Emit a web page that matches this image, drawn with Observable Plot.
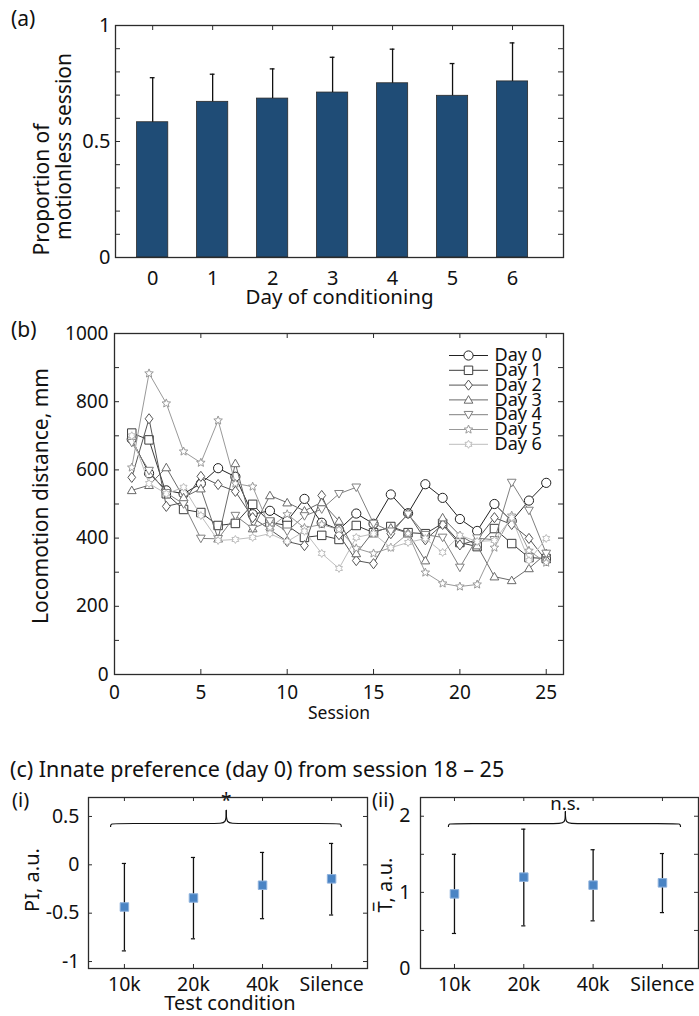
<!DOCTYPE html>
<html><head><meta charset="utf-8">
<script src="https://cdn.jsdelivr.net/npm/d3@7"></script>
<script src="https://cdn.jsdelivr.net/npm/@observablehq/plot@0.6"></script>
<style>
html,body{margin:0;padding:0;background:#fff;}
#root{position:relative;width:699px;height:1016px;font-family:"Noto Sans",sans-serif;color:#111;overflow:hidden;}
#root svg{position:absolute;overflow:visible;}
.lbl{position:absolute;line-height:1;white-space:nowrap;}
</style></head>
<body><div id="root"></div>
<script>
// ---------------- DATA ----------------
// (a)
const days = [0, 1, 2, 3, 4, 5, 6];
const propMean = [0.583, 0.671, 0.685, 0.711, 0.751, 0.697, 0.759];
const propUpper = [0.775, 0.790, 0.813, 0.863, 0.898, 0.836, 0.925];
const aYLabelTicks = [0, 0.5, 1];
const aYMinorTicks = [0, 0.1, 0.2, 0.3, 0.4, 0.5, 0.6, 0.7, 0.8, 0.9, 1];

// (b)
const sessions = [1,2,3,4,5,6,7,8,9,10,11,12,13,14,15,16,17,18,19,20,21,22,23,24,25];
const day0 = [690, 590, 540, 530, 560, 605, 580, 470, 480, 450, 515, 445, 425, 472, 442, 528, 473, 558, 518, 456, 421, 500, 450, 510, 562];
const day1 = [708, 688, 530, 484, 475, 437, 443, 499, 446, 437, 402, 408, 396, 437, 416, 434, 416, 413, 443, 387, 375, 428, 384, 343, 340];
const day2 = [578, 750, 493, 505, 581, 557, 537, 460, 425, 390, 378, 525, 410, 334, 325, 413, 472, 395, 440, 380, 395, 460, 440, 399, 334];
const day3 = [540, 555, 607, 519, 545, 398, 619, 428, 525, 504, 480, 505, 450, 355, 420, 430, 415, 334, 460, 408, 378, 287, 276, 311, 355];
const day4 = [680, 598, 533, 500, 399, 398, 466, 428, 450, 420, 465, 485, 530, 549, 443, 420, 470, 410, 402, 314, 400, 395, 563, 481, 355];
const day5 = [607, 883, 795, 654, 621, 745, 560, 551, 430, 470, 430, 440, 425, 370, 355, 372, 413, 299, 267, 258, 264, 372, 466, 363, 328];
const day6 = [700, 560, 530, 549, 466, 393, 396, 402, 413, 390, 420, 355, 311, 402, 413, 372, 387, 399, 358, 408, 390, 393, 460, 334, 399];
const dayLabels = ["Day 0", "Day 1", "Day 2", "Day 3", "Day 4", "Day 5", "Day 6"];
const daySeries = [day0, day1, day2, day3, day4, day5, day6];
const dayColors = ["#222222", "#3d3d3d", "#555555", "#6a6a6a", "#808080", "#999999", "#bdbdbd"];
const bXTicks = [0, 5, 10, 15, 20, 25];
const bYLabelTicks = [0, 200, 400, 600, 800, 1000];
const bYMinorTicks = [0, 100, 200, 300, 400, 500, 600, 700, 800, 900, 1000];

// (c)
const conds = ["10k", "20k", "40k", "Silence"];
const condIdx = [0, 1, 2, 3];
const piMean = [-0.436, -0.343, -0.211, -0.145];
const piLow = [-0.890, -0.765, -0.557, -0.519];
const piHigh = [0.014, 0.076, 0.128, 0.221];
const tMean = [0.98, 1.20, 1.095, 1.125];
const tLow = [0.46, 0.56, 0.626, 0.734];
const tHigh = [1.50, 1.83, 1.56, 1.51];
const iYLabelTicks = [-1, -0.5, 0, 0.5];
const iiYLabelTicks = [0, 1, 2];
const iiYMinorTicks = [0, 0.5, 1, 1.5, 2];
// brace annotations: [left end, right end, tip] in category units; [end, line, tip] in y units
const braceIX = [-0.2, 3.14, 1.475], braceIY = [0.396, 0.427, 0.562];
const braceIIX = [-0.087, 3.26, 1.6], braceIIY = [1.865, 1.904, 2.06];
const sigI = "*", sigII = "n.s.";

// ---------------- HELPERS ----------------
const root = document.getElementById("root");
const FONT = "'Noto Sans', sans-serif";
function put(svg, left, top) { svg.style.left = left + "px"; svg.style.top = top + "px"; root.appendChild(svg); }
function label(text, left, top, size) {
  const d = document.createElement("div"); d.className = "lbl"; d.textContent = text;
  d.style.left = left + "px"; d.style.top = top + "px"; d.style.fontSize = size + "px";
  root.appendChild(d);
}
function sym(fn) { return {draw(c, size) { fn(c, Math.sqrt(size / Math.PI)); }}; }
function poly(c, pts) { pts.forEach(([x, y], k) => k ? c.lineTo(x, y) : c.moveTo(x, y)); c.closePath(); }
const symCircle = sym((c, r) => { c.moveTo(r, 0); c.arc(0, 0, r, 0, 2 * Math.PI); });
const symSquare = sym((c, r) => { const s = r * 0.92; c.rect(-s, -s, 2 * s, 2 * s); });
const symDiamond = sym((c, r) => { const w = r * 0.88, h = r * 1.15; poly(c, [[0, -h], [w, 0], [0, h], [-w, 0]]); });
const symTriUp = sym((c, r) => { const R = r * 1.2; poly(c, [0, 1, 2].map(k => { const a = -Math.PI / 2 + k * 2 * Math.PI / 3; return [R * Math.cos(a), R * Math.sin(a) + R * 0.15]; })); });
const symTriDown = sym((c, r) => { const R = r * 1.2; poly(c, [0, 1, 2].map(k => { const a = Math.PI / 2 + k * 2 * Math.PI / 3; return [R * Math.cos(a), R * Math.sin(a) - R * 0.15]; })); });
const symStar5 = sym((c, r) => { const R = r * 1.12, ri = R * 0.45; poly(c, d3.range(10).map(k => { const a = -Math.PI / 2 + k * Math.PI / 5, rr = k % 2 ? ri : R; return [rr * Math.cos(a), rr * Math.sin(a)]; })); });
const symHex = sym((c, r) => { const R = r * 1.0, ri = R / Math.sqrt(3); poly(c, d3.range(12).map(k => { const a = -Math.PI / 2 + k * Math.PI / 6, rr = k % 2 ? ri : R; return [rr * Math.cos(a), rr * Math.sin(a)]; })); });
const symLegendLine = {draw(c) { c.moveTo(-19.5, 0); c.lineTo(19.5, 0); }};
const daySymbols = [symCircle, symSquare, symDiamond, symTriUp, symTriDown, symStar5, symHex];
const daySizes = [4.6, 4.6, 4.4, 4.2, 4.2, 4.0, 4.0];
const FR = "#2b2b2b";

// inward ticks
function yTicksInward(vals, frameW, len = 5) {
  return [Plot.tickY(vals, {y: d => d, insetRight: frameW - len, stroke: FR, strokeWidth: 1}),
          Plot.tickY(vals, {y: d => d, insetLeft: frameW - len, stroke: FR, strokeWidth: 1})];
}
function xTicksInward(vals, frameH, len = 5) {
  return [Plot.tickX(vals, {x: d => d, insetBottom: frameH - len, stroke: FR, strokeWidth: 1}),
          Plot.tickX(vals, {x: d => d, insetTop: frameH - len, stroke: FR, strokeWidth: 1})];
}
function braceLines(bx, by) {
  const [x0, x1, xm] = bx, [yEnd, yLine, yTip] = by, d = 0.12;
  const left = [[x0, yEnd], [x0, yLine], [x0 + d, yLine], [xm - d, yLine], [xm, yLine], [xm, yTip]].map(p => ({x: p[0], y: p[1], z: "L"}));
  const right = [[x1, yEnd], [x1, yLine], [x1 - d, yLine], [xm + d, yLine], [xm, yLine], [xm, yTip]].map(p => ({x: p[0], y: p[1], z: "R"}));
  return Plot.line(left.concat(right), {x: "x", y: "y", z: "z", curve: "basis", stroke: "#111", strokeWidth: 1.2});
}
// a free-standing label positioned relative to the frame
function frameText(str, anchor, dx, dy, size, rotate = 0) {
  return Plot.text([str], {frameAnchor: anchor, dx, dy, rotate, fontSize: size, textAnchor: "middle", lineAnchor: "middle", fill: "#111"});
}

// ---------------- PANEL (a) ----------------
{
  const W = 699, H = 310, mL = 115, mR = 136, mT = 25, mB = 53;
  const fw = W - mL - mR, fh = H - mT - mB;
  const p = Plot.plot({
    width: W, height: H, marginLeft: mL, marginRight: mR, marginTop: mT, marginBottom: mB,
    style: {fontFamily: FONT, fontSize: "20px", color: "#111", background: "transparent", overflow: "visible"},
    x: {domain: [-0.62, 6.85]},
    y: {domain: [0, 1]},
    marks: [
      ...yTicksInward(aYMinorTicks, fw),
      ...xTicksInward(days, fh),
      Plot.rect(days, {x1: d => d - 0.26, x2: d => d + 0.26, y1: 0, y2: d => propMean[d], fill: "#1f4c76", stroke: "#2a2a2a", strokeWidth: 0.8}),
      Plot.ruleX(days, {x: d => d, y1: d => propMean[d], y2: d => propUpper[d], stroke: "#111", strokeWidth: 1.3}),
      Plot.ruleY(days, {y: d => propUpper[d], x1: d => d - 0.04, x2: d => d + 0.04, stroke: "#111", strokeWidth: 1.3}),
      Plot.frame({stroke: FR, strokeWidth: 1.3}),
      Plot.axisY({ticks: aYLabelTicks, tickFormat: d => String(d), tickSize: 0, tickPadding: 5, label: null}),
      Plot.axisX({ticks: days, tickFormat: d => String(d), tickSize: 0, tickPadding: 13, label: null}),
      frameText("Proportion of", "left", -73, 48, 21, -90),
      frameText("motionless session", "left", -51, 5, 21, -90),
      frameText("Day of conditioning", "bottom", 0, 40, 20.5)
    ]
  });
  put(p, 0, 0);
  label("(a)", 11, 8, 21);
}

// ---------------- PANEL (b) ----------------
{
  const W = 699, H = 430, mL = 114, mR = 136, mT = 33, mB = 56;
  const fw = W - mL - mR, fh = H - mT - mB;
  const seriesMarks = [];
  daySeries.forEach((vals, k) => {
    seriesMarks.push(Plot.line(sessions, {x: d => d, y: (d, i) => vals[i], stroke: dayColors[k], strokeWidth: 1}));
    seriesMarks.push(Plot.dot(sessions, {x: d => d, y: (d, i) => vals[i], symbol: daySymbols[k], r: daySizes[k], fill: "white", stroke: dayColors[k], strokeWidth: 1}));
  });
  const legendMarks = [];
  dayLabels.forEach((lab, k) => {
    const dy = 22 + 14.8 * k;
    legendMarks.push(Plot.dot([lab], {frameAnchor: "top-right", dx: -95, dy, symbol: symLegendLine, r: 1, fill: "none", stroke: dayColors[k], strokeWidth: 1}));
    legendMarks.push(Plot.dot([lab], {frameAnchor: "top-right", dx: -95, dy, symbol: daySymbols[k], r: daySizes[k], fill: "white", stroke: dayColors[k], strokeWidth: 1}));
    legendMarks.push(Plot.text([lab], {frameAnchor: "top-right", dx: -69, dy, text: d => d, textAnchor: "start", lineAnchor: "middle", fontSize: 18, fill: "#111"}));
  });
  const p = Plot.plot({
    width: W, height: H, marginLeft: mL, marginRight: mR, marginTop: mT, marginBottom: mB,
    style: {fontFamily: FONT, fontSize: "19px", color: "#111", background: "transparent", overflow: "visible"},
    x: {domain: [0, 26]},
    y: {domain: [0, 1000]},
    marks: [
      ...yTicksInward(bYMinorTicks, fw),
      ...xTicksInward(bXTicks, fh),
      ...seriesMarks,
      ...legendMarks,
      Plot.frame({stroke: FR, strokeWidth: 1.3}),
      Plot.axisY({ticks: bYLabelTicks, tickFormat: d => String(d), tickSize: 0, tickPadding: 6, label: null}),
      Plot.axisX({ticks: bXTicks, tickFormat: d => String(d), tickSize: 0, tickPadding: 11, label: null}),
      frameText("Locomotion distance, mm", "left", -73, -8, 21, -90),
      frameText("Session", "bottom", 0, 39, 17.5)
    ]
  });
  put(p, 0, 300);
  label("(b)", 11, 319, 21);
}

// ---------------- PANEL (c) ----------------
label("(c) Innate preference (day 0) from session 18 \u2013 25", 10, 758, 21.5);
{
  const W = 370, H = 236, mL = 88, mR = 3, mT = 17, mB = 48;
  const fw = W - mL - mR, fh = H - mT - mB;
  const p = Plot.plot({
    width: W, height: H, marginLeft: mL, marginRight: mR, marginTop: mT, marginBottom: mB,
    style: {fontFamily: FONT, fontSize: "19.5px", color: "#111", background: "transparent", overflow: "visible"},
    x: {domain: [-0.52, 3.52]},
    y: {domain: [-1.072, 0.696]},
    marks: [
      ...yTicksInward(iYLabelTicks, fw, 4),
      ...xTicksInward(condIdx, fh, 4),
      Plot.ruleX(condIdx, {x: i => i, y1: i => piLow[i], y2: i => piHigh[i], stroke: "#111", strokeWidth: 1.3}),
      Plot.ruleY(condIdx, {y: i => piLow[i], x1: i => i - 0.03, x2: i => i + 0.03, stroke: "#111", strokeWidth: 1.2}),
      Plot.ruleY(condIdx, {y: i => piHigh[i], x1: i => i - 0.03, x2: i => i + 0.03, stroke: "#111", strokeWidth: 1.2}),
      Plot.dot(condIdx, {x: i => i, y: i => piMean[i], symbol: "square", r: 4.8, fill: "#4a84c4", stroke: "#8db1dc", strokeWidth: 1}),
      braceLines(braceIX, braceIY),
      Plot.text([sigI], {x: braceIX[2], y: 0.66, text: d => d, fontSize: 19}),
      Plot.frame({stroke: FR, strokeWidth: 1.3}),
      Plot.axisY({ticks: iYLabelTicks, tickFormat: d => String(d), tickSize: 0, tickPadding: 9, label: null}),
      Plot.axisX({ticks: condIdx, tickFormat: i => conds[i], tickSize: 0, tickPadding: 9, label: null}),
      frameText("PI, a.u.", "left", -56, -3, 20, -90),
      frameText("Test condition", "bottom", 2, 35.5, 20)
    ]
  });
  put(p, 0, 780);
  label("(i)", 12, 790, 20);
}
{
  const W = 331, H = 236, mL = 52, mR = 1, mT = 17, mB = 48;
  const fw = W - mL - mR, fh = H - mT - mB;
  const p = Plot.plot({
    width: W, height: H, marginLeft: mL, marginRight: mR, marginTop: mT, marginBottom: mB,
    style: {fontFamily: FONT, fontSize: "19.5px", color: "#111", background: "transparent", overflow: "visible"},
    x: {domain: [-0.49, 3.52]},
    y: {domain: [0, 2.246]},
    marks: [
      ...yTicksInward(iiYMinorTicks, fw, 4),
      ...xTicksInward(condIdx, fh, 4),
      Plot.ruleX(condIdx, {x: i => i, y1: i => tLow[i], y2: i => tHigh[i], stroke: "#111", strokeWidth: 1.3}),
      Plot.ruleY(condIdx, {y: i => tLow[i], x1: i => i - 0.03, x2: i => i + 0.03, stroke: "#111", strokeWidth: 1.2}),
      Plot.ruleY(condIdx, {y: i => tHigh[i], x1: i => i - 0.03, x2: i => i + 0.03, stroke: "#111", strokeWidth: 1.2}),
      Plot.dot(condIdx, {x: i => i, y: i => tMean[i], symbol: "square", r: 4.8, fill: "#4a84c4", stroke: "#8db1dc", strokeWidth: 1}),
      braceLines(braceIIX, braceIIY),
      Plot.text([sigII], {x: braceIIX[2], y: 2.16, text: d => d, fontSize: 18.5}),
      Plot.frame({stroke: FR, strokeWidth: 1.3}),
      Plot.axisY({ticks: iiYLabelTicks, tickFormat: d => String(d), tickSize: 0, tickPadding: 10, label: null}),
      Plot.axisX({ticks: condIdx, tickFormat: i => conds[i], tickSize: 0, tickPadding: 9, label: null}),
      frameText("T\u0305, a.u.", "left", -35, 2, 20, -90)
    ]
  });
  put(p, 368, 780);
  label("(ii)", 372, 790, 20);
}
</script>
</body></html>
